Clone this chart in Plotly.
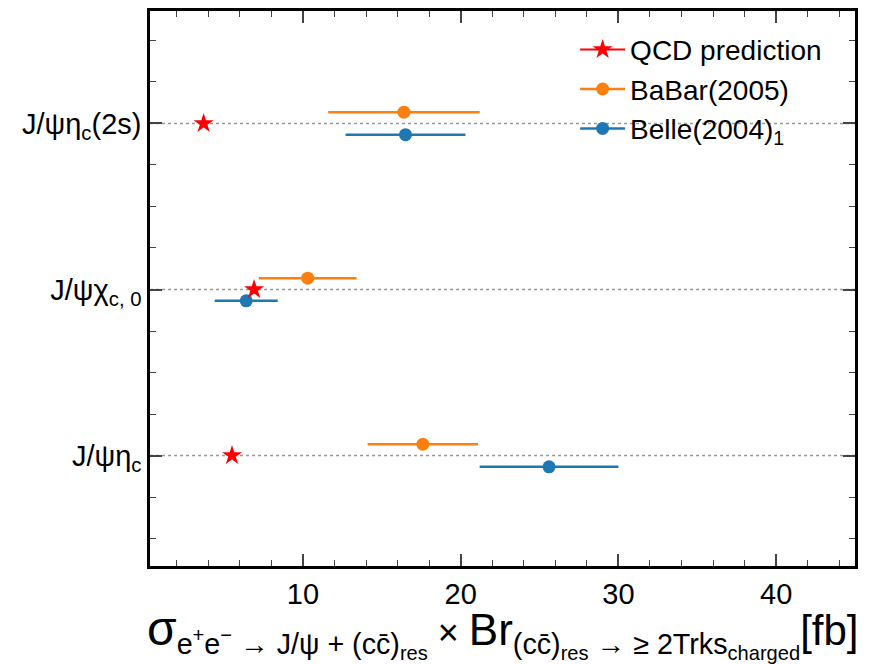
import plotly.graph_objects as go

categories = ["J/ψη<sub>c</sub>", "J/ψχ<sub>c, 0</sub>", "J/ψη<sub>c</sub>(2s)"]
cat_pos = [0, 1, 2]
qcd = [5.5, 6.9, 3.7]
babar = [17.6, 10.3, 16.4]
babar_err = [3.5, 3.1, 4.8]
belle = [25.6, 6.4, 16.5]
belle_err = [4.4, 2.0, 3.8]
offset = 0.068

ORANGE = "#ff7f0e"
BLUE = "#1f77b4"
FONT = "Liberation Sans"

fig = go.Figure()

# dotted guide lines at categories
for p in cat_pos:
    fig.add_hline(y=p, line=dict(color="#999999", width=1.5, dash="dot"), layer="below")

fig.add_trace(go.Scatter(
    x=babar, y=[p + offset for p in cat_pos], mode="markers",
    marker=dict(color=ORANGE, size=13),
    error_x=dict(type="data", array=babar_err, color=ORANGE, thickness=2.5, width=0),
    showlegend=False))
fig.add_trace(go.Scatter(
    x=belle, y=[p - offset for p in cat_pos], mode="markers",
    marker=dict(color=BLUE, size=13),
    error_x=dict(type="data", array=belle_err, color=BLUE, thickness=2.5, width=0),
    showlegend=False))
fig.add_trace(go.Scatter(
    x=qcd, y=cat_pos, mode="markers",
    marker=dict(color="red", size=15, symbol="star"),
    showlegend=False))

# legend entries
fig.add_trace(go.Scatter(x=[None], y=[None], mode="lines+markers", name="QCD prediction",
                         line=dict(color="red", width=2), marker=dict(color="red", size=15, symbol="star")))
fig.add_trace(go.Scatter(x=[None], y=[None], mode="lines+markers", name="BaBar(2005)",
                         line=dict(color=ORANGE, width=2.5), marker=dict(color=ORANGE, size=13)))
fig.add_trace(go.Scatter(x=[None], y=[None], mode="lines+markers", name="Belle(2004)<sub>1</sub>",
                         line=dict(color=BLUE, width=2.5), marker=dict(color=BLUE, size=13)))

xtitle = ("<span style='font-size:48px'>σ</span>"
          "<sub>e<sup>+</sup>e<sup>−</sup> → J/ψ + (cc̄)<sub>res</sub></sub>"
          "<span style='font-size:36px'> × </span><span style='font-size:44px'>Br</span>"
          "<sub>(cc̄)<sub>res</sub> → ≥ 2Trks<sub>charged</sub></sub>"
          "<span style='font-size:42px'>[fb]</span>")

fig.add_annotation(text=xtitle, xref="paper", yref="paper", x=0.5, y=-0.062,
                   xanchor="center", yanchor="top", showarrow=False,
                   font=dict(size=41, family=FONT, color="black"))

fig.update_layout(
    width=883, height=664,
    margin=dict(l=150, r=28, t=8, b=98),
    plot_bgcolor="white", paper_bgcolor="white",
    font=dict(family=FONT, color="black", size=22),
    legend=dict(x=0.603, y=0.975, xanchor="left", yanchor="top",
                font=dict(size=28, family=FONT), bgcolor="rgba(0,0,0,0)",
                itemwidth=45, tracegroupgap=4),
    xaxis=dict(range=[0.3, 45], tickvals=[10, 20, 30, 40], ticks="inside", ticklen=12, tickwidth=1.5,
               tickfont=dict(size=29), showgrid=False, zeroline=False,
               showline=True, linecolor="black", linewidth=2.5, mirror="allticks",
               minor=dict(dtick=2, tick0=0, ticks="inside", ticklen=6, tickwidth=1.2, showgrid=False)),
    yaxis=dict(range=[-0.665, 2.677], tickvals=cat_pos, ticktext=categories, ticks="inside", ticklen=12,
               tickwidth=1.5, tickfont=dict(size=29), showgrid=False, zeroline=False,
               showline=True, linecolor="black", linewidth=2.5, mirror="allticks",
               minor=dict(dtick=0.25, tick0=0, ticks="inside", ticklen=6, tickwidth=1.2, showgrid=False)),
)

fig.write_html("out.html")
